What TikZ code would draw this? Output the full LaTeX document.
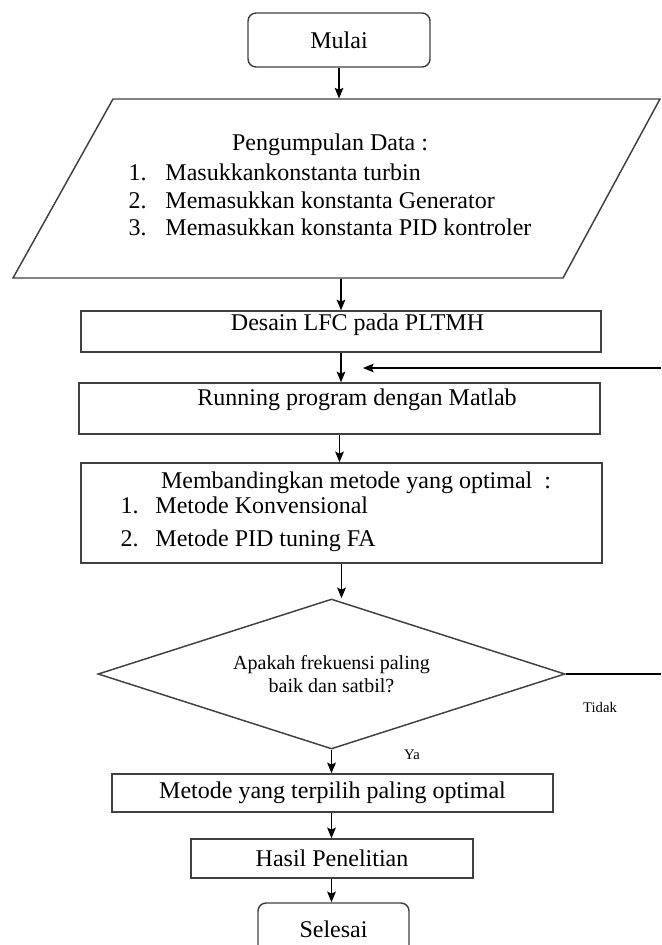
\documentclass[tikz,border=0pt]{standalone}
\usepackage{fontspec}
\setmainfont{Liberation Serif}
\usetikzlibrary{shapes.geometric,arrows.meta}

\tikzset{every picture/.style={line width=0.75pt}}
\tikzset{
  boxline/.style={draw=black!75, line width=1.1pt},
  flowbox/.style={boxline, rectangle, inner sep=0pt, font=\fontsize{18}{20.6}\selectfont},
  termbox/.style={flowbox, rounded corners=6pt},
  decbox/.style={boxline, diamond, shape aspect=3.1, inner sep=0pt, align=center, font=\fontsize{15}{17}\selectfont},
  txt/.style={inner sep=0pt, font=\fontsize{18}{20.6}\selectfont},
  smalltxt/.style={inner sep=0pt, font=\fontsize{11}{13}\selectfont},
  flowarrow/.style={draw=black, line width=1.1pt, -{Stealth[length=8pt,width=6.5pt,inset=1.5pt]}},
  flowline/.style={draw=black, line width=1.1pt}
}

\begin{document}
\begin{tikzpicture}[x=0.75pt,y=0.75pt,yscale=-1,xscale=1]
\clip (0,0) rectangle (661,945);

% Terminal: start
\node (start) [termbox, minimum width=136.5pt, minimum height=40.5pt] at (339,40) {Mulai};

% Input: data
\draw [boxline] (13,278) -- (563,278) -- (660,99) -- (113,99) -- cycle;
\node (data) [inner sep=0pt, minimum width=412pt, minimum height=134.25pt] at (336.5,188.5) {};
\node (dataT) [txt] at (330,145) {Pengumpulan Data :};
\node (dataL) [txt, anchor=west, align=left] at (128,200)
  {\makebox[27.75pt][l]{1.}Masukkankonstanta turbin\\
   \makebox[27.75pt][l]{2.}Memasukkan konstanta Generator\\
   \makebox[27.75pt][l]{3.}Memasukkan konstanta PID kontroler};

% Process boxes
\node (design) [flowbox, minimum width=390pt, minimum height=30.75pt] at (341,331.5) {};
\node (designT) [txt] at (357.5,325) {Desain LFC pada PLTMH};

\node (run) [flowbox, minimum width=390.75pt, minimum height=38.25pt] at (339.5,408.5) {};
\node (runT) [txt] at (357,400) {Running program dengan Matlab};

\node (comp) [flowbox, minimum width=390.75pt, minimum height=75pt] at (341.5,513) {};
\node (compT) [txt] at (356,483) {Membandingkan metode yang optimal\ \ :};
\node (compL) [txt, anchor=west, align=left] at (120,524)
  {\makebox[26.25pt][l]{1.}Metode Konvensional\\[4.5pt]
   \makebox[26.25pt][l]{2.}Metode PID tuning FA};

% Decision
\node (dec) [decbox, minimum width=350.25pt, minimum height=112.5pt] at (331.5,674)
  {Apakah frekuensi paling\\baik dan satbil?};

\node (best) [flowbox, minimum width=330.75pt, minimum height=28.5pt] at (332.5,793) {Metode yang terpilih paling optimal};
\node (result) [flowbox, minimum width=211.5pt, minimum height=29.25pt] at (332,858.5) {Hasil Penelitian};
\node (stop) [termbox, minimum width=113.25pt, minimum height=39pt] at (333.5,929) {Selesai};

% Labels
\node (noLbl) [smalltxt] at (600,707) {Tidak};
\node (yesLbl) [smalltxt] at (412,755) {Ya};

% Connectors
\draw [flowarrow] (start.south) -- (start.south |- data.north);
\draw [flowarrow] (data.south -| design.north) -- (design.north);
\draw [flowarrow] (design.south) -- (design.south |- run.north);
\draw [flowarrow] (run.south) -- (run.south |- comp.north);
\draw [flowarrow] (comp.south) -- (comp.south |- dec.north);
\draw [flowarrow] (dec.south) -- (dec.south |- best.north);
\draw [flowarrow] (best.south -| dec.south) -- (dec.south |- result.north);
\draw [flowarrow] (result.south -| dec.south) -- (dec.south |- stop.north);

% Loop back (No)
\coordinate (backIn) at (661,368);
\coordinate (backTip) at (363,368);
\draw [flowline] (dec.east) -- (dec.east -| backIn);
\draw [flowarrow] (backIn) -- (backTip);

\end{tikzpicture}
\end{document}
